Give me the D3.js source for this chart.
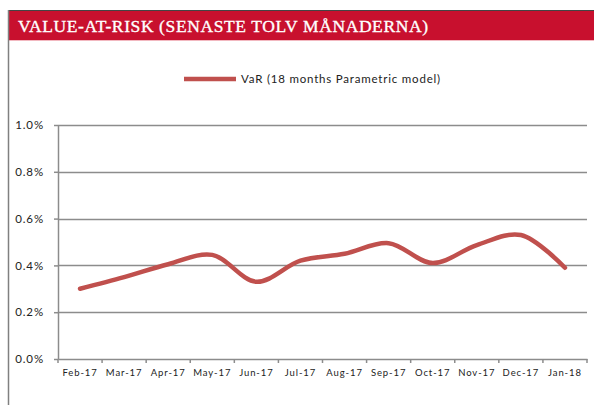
<!DOCTYPE html>
<html>
<head>
<meta charset="utf-8">
<script src="https://cdn.jsdelivr.net/npm/d3@7"></script>
<style>
  body { margin: 0; background: #fff; }
  svg { display: block; }
</style>
</head>
<body>
<div id="vis-container"></div>
<script>
const width = 594,
      height = 405,
      margin = {top: 125, bottom: 46, left: 58, right: 7};

// chart data
var months = ["Feb-17", "Mar-17", "Apr-17", "May-17", "Jun-17", "Jul-17", "Aug-17", "Sep-17", "Oct-17", "Nov-17", "Dec-17", "Jan-18"];
var varValues = [0.0030, 0.0035, 0.00405, 0.00445, 0.0033, 0.0042, 0.0045, 0.00495, 0.0041, 0.00487, 0.0053, 0.0039];
var yTicks = [0, 0.002, 0.004, 0.006, 0.008, 0.010];
var titleText = "VALUE-AT-RISK (SENASTE TOLV MÅNADERNA)";
var legendText = "VaR (18 months Parametric model)";

const lineColor = "#c0504d";

var svg = d3.select("#vis-container").append("svg")
    .attr("width", width)
    .attr("height", height);

// ******* Frame and banner *******
svg.append("rect")
    .attr("x", 8).attr("y", 11)
    .attr("width", width - 8).attr("height", 29)
    .attr("fill", "#c8102e");
svg.append("line")
    .attr("x1", 8).attr("x2", width)
    .attr("y1", 10.5).attr("y2", 10.5)
    .attr("stroke", "#444").attr("stroke-width", 1);
svg.append("line")
    .attr("x1", 8).attr("x2", width)
    .attr("y1", 40.5).attr("y2", 40.5)
    .attr("stroke", "#f2b8c0").attr("stroke-width", 1);
svg.append("line")
    .attr("x1", 8.5).attr("x2", 8.5)
    .attr("y1", 10).attr("y2", height)
    .attr("stroke", "#808080").attr("stroke-width", 1.5);

svg.append("text")
    .attr("x", 18).attr("y", 32)
    .attr("fill", "#fff")
    .attr("stroke", "#fff").attr("stroke-width", 0.35)
    .attr("font-family", "Liberation Serif, serif")
    .attr("font-size", 17.5)
    .attr("letter-spacing", 0.6)
    .text(titleText);

// ******* Scales *******
var x = d3.scaleBand().domain(months).range([margin.left, width - margin.right]);
var y = d3.scaleLinear().domain([0, 0.01]).range([height - margin.bottom, margin.top]);

// ******* Gridlines *******
svg.append("g")
    .selectAll("line")
    .data(yTicks.slice(1))
    .enter()
    .append("line")
    .attr("x1", margin.left).attr("x2", width - margin.right)
    .attr("y1", d => Math.round(y(d)) + 0.5).attr("y2", d => Math.round(y(d)) + 0.5)
    .attr("stroke", "#8c8c8c").attr("stroke-width", 1.5);

// ******* Axes *******
var yAxis = svg.append("g")
    .attr("transform", `translate(${margin.left} 0)`)
    .call(d3.axisLeft(y).tickValues(yTicks).tickFormat(d3.format(".1%")).tickSizeInner(4).tickSizeOuter(0).tickPadding(10));
yAxis.select(".domain").attr("stroke", "#8c8c8c").attr("stroke-width", 1.5);
yAxis.selectAll(".tick line").attr("stroke", "#8c8c8c").attr("stroke-width", 1.5);
yAxis.selectAll("text")
    .attr("font-family", "Lato, sans-serif").attr("font-size", 11.5)
    .attr("letter-spacing", 0.9).attr("fill", "#222");

var xAxis = svg.append("g")
    .attr("transform", `translate(0 ${height - margin.bottom})`)
    .call(d3.axisBottom(x).tickSize(0).tickPadding(10));
xAxis.select(".domain").attr("stroke", "#8c8c8c").attr("stroke-width", 1.5);
xAxis.selectAll("text")
    .attr("font-family", "Lato, sans-serif").attr("font-size", 9.5)
    .attr("letter-spacing", 0.9).attr("fill", "#222");
// category boundary ticks
xAxis.append("g")
    .selectAll("line")
    .data(d3.range(months.length + 1))
    .enter()
    .append("line")
    .attr("x1", i => margin.left + i * x.step()).attr("x2", i => margin.left + i * x.step())
    .attr("y1", 0).attr("y2", 4)
    .attr("stroke", "#8c8c8c").attr("stroke-width", 1.5);

// ******* Line *******
var line = d3.line()
    .x((d, i) => x(months[i]) + x.bandwidth() / 2)
    .y(d => y(d))
    .curve(d3.curveCatmullRom.alpha(0.5));

svg.append("path")
    .datum(varValues)
    .attr("d", line)
    .attr("fill", "none")
    .attr("stroke", lineColor)
    .attr("stroke-width", 4.5)
    .attr("stroke-linecap", "round");

// ******* Legend *******
svg.append("line")
    .attr("x1", 184).attr("x2", 236)
    .attr("y1", 79).attr("y2", 79)
    .attr("stroke", lineColor).attr("stroke-width", 4.5);
svg.append("text")
    .attr("x", 241).attr("y", 83)
    .attr("font-family", "Lato, sans-serif").attr("font-size", 11.5)
    .attr("letter-spacing", 0.8).attr("fill", "#222")
    .text(legendText);
</script>
</body>
</html>
